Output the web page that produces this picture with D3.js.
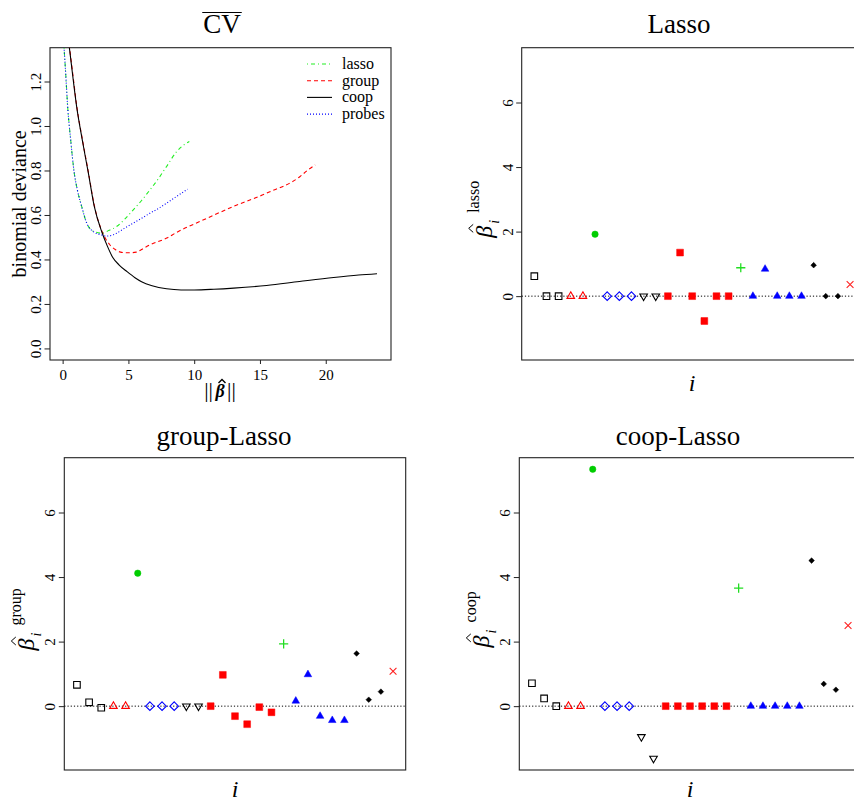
<!DOCTYPE html>
<html>
<head>
<meta charset="utf-8" />
<title>CV and coefficient estimates</title>
<style>
body { margin: 0; background: #fff; }
svg, svg text { font-family: "Liberation Serif", "DejaVu Serif", serif !important; fill: #000; }
.box { fill: none; stroke: #222; stroke-width: 1.1px; }
.tick line { stroke: #222; stroke-width: 1px; }
.tick text { font-size: 15px; }
.curve { fill: none; stroke-width: 1.1px; }
.zero { stroke: #000; stroke-width: 1px; stroke-dasharray: 1.2,2; }
</style>
</head>
<body>
<script src="https://cdn.jsdelivr.net/npm/d3@7"></script>
<script>
// ---- CV curves: norm of beta vs mean binomial deviance ----
var lassoX  = [0.0, 0.10, 0.23, 0.38, 0.61, 0.88, 1.11, 1.44, 1.82, 2.33, 2.97, 3.5, 4.1, 4.7, 5.37, 6.0, 6.64, 7.3, 7.9, 8.67, 9.1, 9.63];
var lassoY  = [1.45, 1.359, 1.239, 1.089, 0.939, 0.79, 0.715, 0.64, 0.565, 0.527, 0.518, 0.53, 0.548, 0.58, 0.623, 0.665, 0.713, 0.765, 0.818, 0.885, 0.91, 0.93];
var probesX = [0.0, 0.10, 0.23, 0.38, 0.61, 0.88, 1.11, 1.44, 1.82, 2.33, 2.97, 3.3, 3.8, 4.1, 4.7, 5.37, 6.0, 6.64, 7.3, 7.9, 8.7, 9.5];
var probesY = [1.45, 1.359, 1.239, 1.089, 0.939, 0.79, 0.715, 0.64, 0.565, 0.525, 0.51, 0.505, 0.51, 0.518, 0.54, 0.563, 0.585, 0.608, 0.63, 0.653, 0.685, 0.716];
var groupX  = [0.3, 0.51, 0.8, 1.06, 1.5, 1.95, 2.4, 3.0, 3.3, 3.6, 4.0, 4.4, 5.0, 5.6, 6.0, 6.64, 7.91, 8.67, 10.44, 12.98, 15.51, 18.05, 18.6, 19.2];
var groupY  = [1.46, 1.36, 1.22, 1.095, 0.94, 0.795, 0.645, 0.525, 0.49, 0.465, 0.445, 0.433, 0.43, 0.433, 0.445, 0.466, 0.496, 0.522, 0.571, 0.638, 0.698, 0.773, 0.8, 0.825];
var coopX   = [0.3, 0.51, 0.8, 1.06, 1.5, 1.95, 2.4, 3.0, 3.4, 3.8, 4.3, 4.9, 5.5, 6.0, 6.8, 7.9, 9.0, 10.0, 11.5, 13.0, 15.5, 18.0, 20.6, 22.5, 23.9];
var coopY   = [1.45, 1.353, 1.21, 1.089, 0.935, 0.79, 0.64, 0.52, 0.46, 0.41, 0.375, 0.345, 0.318, 0.30, 0.282, 0.268, 0.263, 0.263, 0.266, 0.271, 0.283, 0.301, 0.319, 0.33, 0.336];

var cvXTicks = [0, 5, 10, 15, 20];
var cvYTicks = [0, 0.2, 0.4, 0.6, 0.8, 1.0, 1.2];

// ---- coefficient estimates, variables 1..27 ----
var shapes = ["sq", "sq", "sq", "tri", "tri", "dot", "dia", "dia", "dia", "tridn", "tridn",
              "sqf", "sqf", "sqf", "sqf", "sqf", "sqf", "plus", "trif", "trif", "trif", "trif", "trif",
              "diaf", "diaf", "diaf", "cross"];
var colors = ["#000", "#000", "#000", "#ff0000", "#ff0000", "#00cd00", "#0000ff", "#0000ff", "#0000ff", "#000", "#000",
              "#ff0000", "#ff0000", "#ff0000", "#ff0000", "#ff0000", "#ff0000", "#22dd22", "#0000ff", "#0000ff", "#0000ff", "#0000ff", "#0000ff",
              "#000", "#000", "#000", "#ff2020"];
var betaLasso = [0.62, 0, 0, 0, 0, 1.92, 0, 0, 0, 0, 0, 0, 1.35, 0, -0.77, 0, 0, 0.88, 0, 0.84, 0, 0, 0, 0.96, 0, 0, 0.36];
var betaGroup = [0.66, 0.12, -0.05, 0, 0, 4.12, 0, 0, 0, 0, 0, 0, 0.97, -0.31, -0.56, -0.03, -0.19, 1.93, 0.16, 0.98, -0.31, -0.44, -0.44, 1.63, 0.20, 0.45, 1.08];
var betaCoop  = [0.71, 0.24, 0, 0, 0, 7.34, 0, 0, 0, -0.95, -1.62, 0, 0, 0, 0, 0, 0, 3.66, 0, 0, 0, 0, 0, 4.51, 0.69, 0.51, 2.50];
var betaTicks = [0, 2, 4, 6];

var width = 854, height = 804;
var serif = "'Liberation Serif', 'DejaVu Serif', serif";

var svg = d3.select("body").append("svg")
    .attr("width", width)
    .attr("height", height)
    .style("font-family", serif);

// R style range padding (4% each side)
function pad(ext) {
    var d = (ext[1] - ext[0]) * 0.04;
    return [ext[0] - d, ext[1] + d];
}

function frame(p, id) {
    svg.append("clipPath").attr("id", id)
      .append("rect")
        .attr("x", p.x0).attr("y", p.y0)
        .attr("width", p.x1 - p.x0).attr("height", p.y1 - p.y0);
    svg.append("rect").attr("class", "box")
        .attr("x", p.x0).attr("y", p.y0)
        .attr("width", p.x1 - p.x0).attr("height", p.y1 - p.y0);
}

function leftAxis(p, y, ticks, fmt) {
    var g = svg.append("g")
        .attr("transform", "translate(" + p.x0 + ",0)")
        .call(d3.axisLeft(y).tickValues(ticks).tickSize(5.5).tickFormat(fmt))
        .attr("font-family", null);
    g.select(".domain").remove();
    g.selectAll(".tick text")
        .attr("x", null).attr("dy", null)
        .attr("text-anchor", "middle")
        .style("font-family", serif)
        .attr("transform", "translate(-9,0) rotate(-90)");
    return g;
}

function title(x, y, s) {
    return svg.append("text")
        .attr("x", x).attr("y", y)
        .attr("text-anchor", "middle")
        .style("font-size", "27px")
        .text(s);
}

// ================= panel 1 : CV =================
var p1 = {x0: 50, x1: 391, y0: 47.7, y1: 360};
var x1s = d3.scaleLinear().domain(pad([0, 24])).range([p1.x0, p1.x1]);
var y1s = d3.scaleLinear().domain(pad([0, 1.3])).range([p1.y1, p1.y0]);

frame(p1, "clip1");

var line = d3.line()
    .x(function(d) { return x1s(d[0]); })
    .y(function(d) { return y1s(d[1]); })
    .curve(d3.curveMonotoneX);

var curves = [
    {name: "lasso",  xs: lassoX,  ys: lassoY,  color: "#22ee22", dash: "1,3,4,3"},
    {name: "group",  xs: groupX,  ys: groupY,  color: "#ff0000", dash: "4,3"},
    {name: "coop",   xs: coopX,   ys: coopY,   color: "#000000", dash: null},
    {name: "probes", xs: probesX, ys: probesY, color: "#0000ff", dash: "1,2"}
];

svg.append("g").attr("clip-path", "url(#clip1)")
    .selectAll("path")
    .data(curves)
  .enter().append("path")
    .attr("class", "curve")
    .attr("d", function(c) { return line(d3.zip(c.xs, c.ys)); })
    .style("stroke", function(c) { return c.color; })
    .style("stroke-dasharray", function(c) { return c.dash; });

var gx1 = svg.append("g")
    .attr("transform", "translate(0," + p1.y1 + ")")
    .call(d3.axisBottom(x1s).tickValues(cvXTicks).tickSize(4))
    .attr("font-family", null);
gx1.select(".domain").remove();
gx1.selectAll(".tick text").attr("y", 20).attr("dy", null).style("font-family", serif);

leftAxis(p1, y1s, cvYTicks, d3.format(".1f"));

// legend
var leg = svg.append("g").selectAll("g")
    .data(curves)
  .enter().append("g")
    .attr("transform", function(d, i) { return "translate(0," + (64 + i * 16.7) + ")"; });
leg.append("line")
    .attr("x1", 307).attr("x2", 332)
    .style("stroke", function(d) { return d.color; })
    .style("stroke-width", 1.1)
    .style("stroke-dasharray", function(d) { return d.dash; });
leg.append("text")
    .attr("x", 342).attr("y", 5)
    .style("font-size", "16px")
    .text(function(d) { return d.name; });

// title with overline
var cvTitle = title(222, 33, "CV");
var tw = cvTitle.node().getComputedTextLength();
svg.append("line")
    .attr("x1", 222 - tw / 2 - 1).attr("x2", 222 + tw / 2 + 1)
    .attr("y1", 12.5).attr("y2", 12.5)
    .style("stroke", "#000").style("stroke-width", 1.1);

svg.append("text")
    .attr("transform", "translate(26," + ((p1.y0 + p1.y1) / 2) + ") rotate(-90)")
    .attr("text-anchor", "middle")
    .style("font-size", "20px")
    .text("binomial deviance");

// x label ||beta-hat||
var xl = svg.append("g").attr("transform", "translate(220,397)");
xl.append("text").attr("x", -7).attr("text-anchor", "end").style("font-size", "22px").text("||");
xl.append("text").attr("x", 0).attr("text-anchor", "middle")
    .style("font-size", "18px").style("font-weight", "bold").style("font-style", "italic").text("β");
xl.append("text").attr("x", 7).style("font-size", "22px").text("||");
xl.append("path").attr("d", "M-1.5,-14 L2,-17.5 L5.5,-14")
    .style("fill", "none").style("stroke", "#000").style("stroke-width", 1.4);

// ================= coefficient panels =================
var allBeta = betaLasso.concat(betaGroup, betaCoop);
var betaDomain = pad(d3.extent(allBeta));
var idx = d3.range(1, betaLasso.length + 1);

function symbolPath(s, cx, cy) {
    var p = d3.path(), h;
    if (s === "sq" || s === "sqf") {
        h = s === "sq" ? 3.3 : 3.4;
        p.rect(cx - h, cy - h, 2 * h, 2 * h);
    } else if (s === "tri" || s === "trif") {
        p.moveTo(cx, cy - 4.4); p.lineTo(cx + 3.8, cy + 2.2); p.lineTo(cx - 3.8, cy + 2.2); p.closePath();
    } else if (s === "tridn") {
        p.moveTo(cx, cy + 4.4); p.lineTo(cx + 3.8, cy - 2.2); p.lineTo(cx - 3.8, cy - 2.2); p.closePath();
    } else if (s === "dot") {
        p.moveTo(cx + 3.2, cy); p.arc(cx, cy, 3.2, 0, 2 * Math.PI);
    } else if (s === "dia" || s === "diaf") {
        h = s === "dia" ? 4.3 : 2.8;
        p.moveTo(cx, cy - h); p.lineTo(cx + h, cy); p.lineTo(cx, cy + h); p.lineTo(cx - h, cy); p.closePath();
    } else if (s === "plus") {
        p.moveTo(cx - 4.6, cy); p.lineTo(cx + 4.6, cy); p.moveTo(cx, cy - 4.6); p.lineTo(cx, cy + 4.6);
    } else if (s === "cross") {
        p.moveTo(cx - 3.4, cy - 3.4); p.lineTo(cx + 3.4, cy + 3.4); p.moveTo(cx - 3.4, cy + 3.4); p.lineTo(cx + 3.4, cy - 3.4);
    }
    return p.toString();
}

function isFilled(s) { return s === "dot" || s === "sqf" || s === "trif" || s === "diaf"; }

function betaLabel(p, sup) {
    var cy = (p.y0 + p.y1) / 2 + 6;
    var g = svg.append("g");
    var inner = g.append("g");
    inner.append("text").attr("x", 0).attr("y", 0)
        .style("font-size", "24px").style("font-style", "italic").text("β");
    inner.append("path").attr("d", "M5.5,-18.5 L9.5,-23 L13.5,-18.5")
        .style("fill", "none").style("stroke", "#000").style("stroke-width", 1);
    inner.append("text").attr("x", 14).attr("y", 7)
        .style("font-size", "14px").style("font-style", "italic").text("i");
    inner.append("text").attr("x", 25).attr("y", -13)
        .style("font-size", "16px").text(sup);
    var bb = inner.node().getBBox();
    g.attr("transform", "translate(" + (p.x0 - 30) + "," + cy + ") rotate(-90) translate(" + (-(bb.x + bb.width / 2)) + ",0)");
}

function coefPanel(p, id, betas, name, sup, tx, ty) {
    var x = d3.scaleLinear().domain(pad([1, betas.length])).range([p.x0, p.x1]);
    var y = d3.scaleLinear().domain(betaDomain).range([p.y1, p.y0]);

    frame(p, id);

    svg.append("line").attr("class", "zero")
        .attr("x1", p.x0).attr("x2", p.x1)
        .attr("y1", y(0)).attr("y2", y(0));

    svg.append("g").attr("clip-path", "url(#" + id + ")")
        .selectAll("path")
        .data(idx)
      .enter().append("path")
        .attr("d", function(i) { return symbolPath(shapes[i - 1], x(i), y(betas[i - 1])); })
        .style("fill", function(i) { return isFilled(shapes[i - 1]) ? colors[i - 1] : "none"; })
        .style("stroke", function(i) { return colors[i - 1]; })
        .style("stroke-width", function(i) {
            var s = shapes[i - 1];
            return isFilled(s) ? 0.5 : (s === "plus" ? 1.3 : 1.1);
        });

    leftAxis(p, y, betaTicks, d3.format("d"));

    title(tx, ty, name);

    svg.append("text")
        .attr("x", (p.x0 + p.x1) / 2).attr("y", Math.min(p.y1 + 31, 797))
        .attr("text-anchor", "middle")
        .style("font-size", "24px").style("font-style", "italic")
        .text("i");

    betaLabel(p, sup);
}

coefPanel({x0: 521.7, x1: 862.7, y0: 47.7, y1: 360}, "clip2", betaLasso, "Lasso", "lasso", 679, 33);
coefPanel({x0: 64.3, x1: 405.7, y0: 457.7, y1: 770}, "clip3", betaGroup, "group-Lasso", "group", 224, 445);
coefPanel({x0: 519.3, x1: 860.7, y0: 457.7, y1: 770}, "clip4", betaCoop, "coop-Lasso", "coop", 678, 445);
</script>
</body>
</html>
